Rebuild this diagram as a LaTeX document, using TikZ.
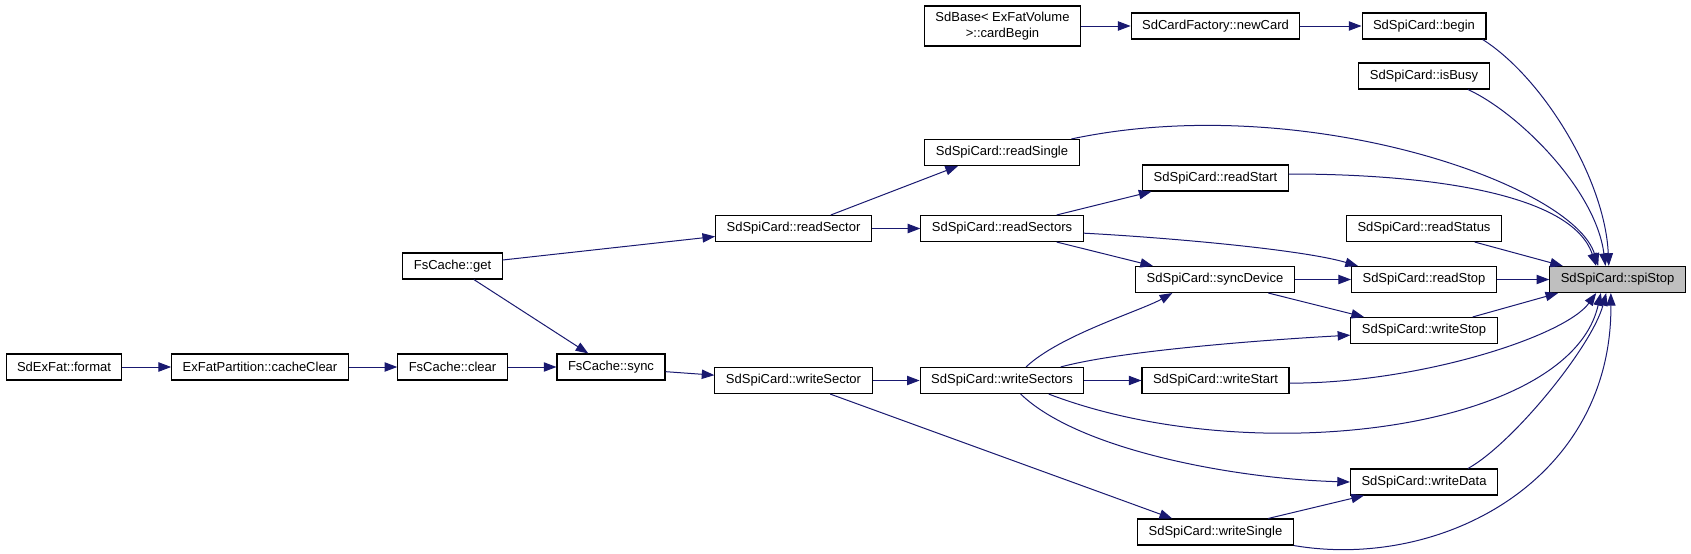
\documentclass[tikz,border=0pt]{standalone}
\usepackage{fontspec}
\setmainfont{Liberation Sans}
\usetikzlibrary{arrows.meta}
\definecolor{calledge}{HTML}{191970}
\definecolor{focus}{HTML}{BFBFBF}
\tikzset{
  func/.style={draw=black, line width=0.8pt, fill=white, inner xsep=8.25pt,
    inner ysep=0pt, minimum height=19.5pt, font=\fontsize{9.75}{11.5}\selectfont},
  calls/.style={draw=calledge, line width=0.75pt,
    -{Triangle[length=9.5pt,width=7pt]}}
}

\begin{document}
\begin{tikzpicture}[x=0.75pt, y=-0.75pt]
  \useasboundingbox (0,0) rectangle (1691,553);

  \node[func] (fmt)    at (64,367)      {SdExFat::format};
  \node[func] (ccl)    at (260,367)     {ExFatPartition::cacheClear};
  \node[func] (clr)    at (452.5,367)   {FsCache::clear};
  \node[func] (syn)    at (611,367)     {FsCache::sync};
  \node[func] (get)    at (452.5,266)   {FsCache::get};
  \node[func] (rsec)   at (793.5,228.5) {SdSpiCard::readSector};
  \node[func] (wsec)   at (793.5,380.5) {SdSpiCard::writeSector};
  \node[func, align=center, minimum height=30pt] (cbeg) at (1002.5,26)
    {SdBase< ExFatVolume\\>::cardBegin};
  \node[func] (ncard)  at (1215.5,26)   {SdCardFactory::newCard};
  \node[func] (begin)  at (1424,26)     {SdSpiCard::begin};
  \node[func] (busy)   at (1424,76)     {SdSpiCard::isBusy};
  \node[func] (rsgl)   at (1002,152.5)  {SdSpiCard::readSingle};
  \node[func] (rstart) at (1215.5,178)  {SdSpiCard::readStart};
  \node[func] (rsecs)  at (1002,228.5)  {SdSpiCard::readSectors};
  \node[func] (rstat)  at (1424,228.5)  {SdSpiCard::readStatus};
  \node[func] (sdev)   at (1215,279.5)  {SdSpiCard::syncDevice};
  \node[func] (rstop)  at (1424,279.5)  {SdSpiCard::readStop};
  \node[func, fill=focus] (spi) at (1617.5,279.5) {SdSpiCard::spiStop};
  \node[func] (wstop)  at (1424,330.5)  {SdSpiCard::writeStop};
  \node[func] (wsecs)  at (1002,380.5)  {SdSpiCard::writeSectors};
  \node[func] (wstart) at (1215.5,380.5) {SdSpiCard::writeStart};
  \node[func] (wdata)  at (1424,482)    {SdSpiCard::writeData};
  \node[func] (wsgl)   at (1215.5,532)  {SdSpiCard::writeSingle};

  \draw[calls] (fmt) -- (ccl);
  \draw[calls] (ccl) -- (clr);
  \draw[calls] (clr) -- (syn);
  \draw[calls] ([xshift=16pt]get.south) -- ([xshift=-17pt]syn.north);
  \draw[calls] ([yshift=4.5pt]get.east) -- ([yshift=-6pt]rsec.west);
  \draw[calls] ([yshift=-3.5pt]syn.east) -- ([yshift=4pt]wsec.west);
  \draw[calls] (rsec) -- (rsecs);
  \draw[calls] ([xshift=28pt]rsec.north) -- ([xshift=-33pt]rsgl.south);
  \draw[calls] (wsec) -- (wsecs);
  \draw[calls] ([xshift=27.5pt]wsec.south) -- ([xshift=-32.5pt]wsgl.north);
  \draw[calls] (cbeg) -- (ncard);
  \draw[calls] (ncard) -- (begin);
  \draw[calls] ([xshift=41pt]rsecs.north) -- ([xshift=-48pt]rstart.south);
  \draw[calls] ([xshift=41pt]rsecs.south) -- ([xshift=-46.5pt]sdev.north);
  \draw[calls] ([yshift=-3.5pt]rsecs.east) .. controls +(77,4) and +(-58,-17)
    .. ([xshift=-49.5pt]rstop.north);
  \draw[calls] ([xshift=52pt]rsgl.north) .. controls +(231,-49) and +(-25,-82)
    .. ([xshift=-14.5pt]spi.north);
  \draw[calls] ([yshift=3pt]rstart.east) .. controls +(142,0) and +(-24,-72)
    .. ([xshift=-16pt]spi.north);
  \draw[calls] ([xshift=44pt]begin.south) .. controls +(60,38) and +(-4,-87)
    .. ([xshift=-6.5pt]spi.north);
  \draw[calls] ([xshift=33pt]busy.south) .. controls +(50,23) and +(-10,-77)
    .. ([xshift=-9pt]spi.north);
  \draw[calls] ([xshift=38pt]rstat.south) -- ([xshift=-41pt]spi.north);
  \draw[calls] (sdev) -- (rstop);
  \draw[calls] (rstop) -- (spi);
  \draw[calls] ([xshift=40pt]sdev.south) -- ([xshift=-45pt]wstop.north);
  \draw[calls] ([xshift=36.5pt]wstop.north) -- ([xshift=-44.5pt]spi.south);
  \draw[calls] ([xshift=18pt]wsecs.north) .. controls +(34,-32) and +(-32,18)
    .. ([xshift=-32pt]sdev.south);
  \draw[calls] ([xshift=44pt]wsecs.north) .. controls +(59,-16) and +(-91,5)
    .. ([yshift=-3.5pt]wstop.west);
  \draw[calls] (wsecs) -- (wstart);
  \draw[calls] ([yshift=-2pt]wstart.east) .. controls +(131,0) and +(-31,43)
    .. ([xshift=-16pt]spi.south);
  \draw[calls] ([xshift=35pt]wsecs.south) .. controls +(201,77) and +(-31,138)
    .. ([xshift=-12.5pt]spi.south);
  \draw[calls] ([xshift=14pt]wsecs.south) .. controls +(59,57) and +(-111,-3)
    .. (wdata.west);
  \draw[calls] ([xshift=33pt]wdata.north) .. controls +(45,-25) and +(-14,53)
    .. ([xshift=-8.5pt]spi.south);
  \draw[calls] ([xshift=39.5pt]wsgl.north) -- ([xshift=-45pt]wdata.south);
  \draw[calls] (wsgl.south east) .. controls +(147,25) and +(1,188)
    .. ([xshift=-5pt]spi.south);
\end{tikzpicture}
\end{document}
